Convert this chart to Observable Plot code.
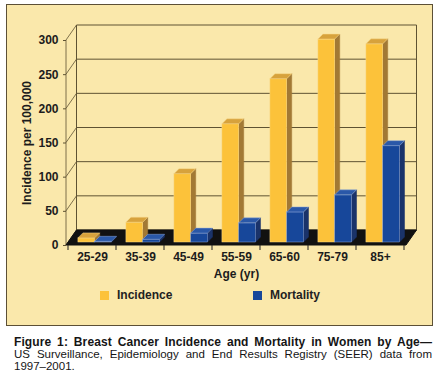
<!DOCTYPE html>
<html><head><meta charset="utf-8">
<script src="https://cdn.jsdelivr.net/npm/d3@7"></script>
<script src="https://cdn.jsdelivr.net/npm/@observablehq/plot@0.6"></script>
<style>
body{margin:0;background:#fff;width:437px;height:375px;overflow:hidden;font-family:"Liberation Sans",Arial,sans-serif;position:relative;}
#panel{position:absolute;left:6px;top:4px;width:425px;height:320px;border:1px solid #5c5036;background:#fae8ab;}
#chart{position:absolute;left:0;top:0;}
.leg{position:absolute;font-weight:bold;font-size:12px;color:#222;line-height:12px;white-space:nowrap}
.sw{position:absolute;width:9px;height:9px}
#cap{position:absolute;left:14px;top:336px;width:418px;font-size:11.5px;line-height:12px;text-align:justify;color:#151515;}
#cap b{display:block;font-size:12px;letter-spacing:0.1px;text-align:justify;text-align-last:justify;white-space:nowrap;}
#cap span{white-space:nowrap}
</style></head><body>
<div id="panel"></div>
<div id="chart"></div>
<div id="legend"></div>
<div id="cap"><b>Figure 1: Breast Cancer Incidence and Mortality in Women by Age—</b>US Surveillance, Epidemiology and End Results Registry (SEER) data from <span>1997–2001.</span></div>
<script>
const ages = ["25-29","35-39","45-49","55-59","65-60","75-79","85+"];
const incidence = [6, 29, 100, 173, 239, 297, 290];
const mortality = [1, 4, 13, 28, 44, 69, 141];
const yTicks = [0, 50, 100, 150, 200, 250, 300];
const seriesNames = ["Incidence", "Mortality"];

const GRID = "#5e5232";
const FACES = [
  {front: "#fcc23a", top: "#d7a23c", side: "#a27934", edge: "#f8d98a"},
  {front: "#17479a", top: "#2a58a8", side: "#1a336a", edge: "#8fa8d8"}
];
const WALL_DX = 10.5, WALL_DY = -15;
const BAR_SX = 2, BAR_SY = -3, BAR_D = 5;

const rows = ages.flatMap((a, i) => [
  {age: a, series: seriesNames[0], value: incidence[i], k: 0},
  {age: a, series: seriesNames[1], value: mortality[i], k: 1}
]);

function bw(s) { return typeof s.bandwidth === "function" ? s.bandwidth() : s.bandwidth; }

function walls(index, scales, values, dims) {
  const g = d3.create("svg:g");
  const y = scales.y;
  const x0 = dims.marginLeft, x1 = dims.width - dims.marginRight;
  const yTop = y(yTicks[yTicks.length - 1]), yBot = y(0);
  for (const t of yTicks) {
    const yy = y(t);
    g.append("line").attr("x1", x0 + WALL_DX).attr("x2", x1 + WALL_DX)
      .attr("y1", yy + WALL_DY).attr("y2", yy + WALL_DY).attr("stroke", GRID);
    g.append("line").attr("x1", x0).attr("x2", x0 + WALL_DX)
      .attr("y1", yy).attr("y2", yy + WALL_DY).attr("stroke", GRID).attr("stroke-width", 0.8);
  }
  g.append("line").attr("x1", x0).attr("x2", x0).attr("y1", yTop).attr("y2", yBot).attr("stroke", GRID).attr("stroke-width", 0.8);
  g.append("line").attr("x1", x0 + WALL_DX).attr("x2", x0 + WALL_DX).attr("y1", yTop + WALL_DY).attr("y2", yBot + WALL_DY).attr("stroke", GRID);
  g.append("line").attr("x1", x1 + WALL_DX).attr("x2", x1 + WALL_DX).attr("y1", yTop + WALL_DY).attr("y2", yBot + WALL_DY).attr("stroke", GRID);
  return g.node();
}

function floor(index, scales, values, dims) {
  const g = d3.create("svg:g");
  const y = scales.y, x = scales.x;
  const x0 = dims.marginLeft, x1 = dims.width - dims.marginRight;
  const y0 = y(0);
  g.append("path").attr("d", `M${x0},${y0}L${x1},${y0}L${x1 + WALL_DX},${y0 + WALL_DY}L${x0 + WALL_DX},${y0 + WALL_DY}Z`)
    .attr("fill", "#111").attr("stroke", "#111");
  const b = bw(x);
  const bounds = ages.map(a => x(a)).concat([x(ages[ages.length - 1]) + b]);
  for (const xx of bounds) {
    g.append("line").attr("x1", xx).attr("x2", xx).attr("y1", y0).attr("y2", y0 + 5).attr("stroke", "#222");
  }
  return g.node();
}

function boxes(index, scales, values, dims) {
  const g = d3.create("svg:g");
  const x = scales.x, y = scales.y;
  const b = bw(x);
  const w = b * 0.35;
  for (const i of index) {
    const r = rows[i];
    const f = FACES[r.k];
    const xa = x(r.age) + b * 0.165 + BAR_SX + r.k * w;
    const xb = xa + w;
    const yb = y(0) + BAR_SY;
    const yt = y(r.value) + BAR_SY;
    const d = BAR_D;
    g.append("path").attr("d", `M${xb},${yt}L${xb + d},${yt - d}L${xb + d},${yb - d}L${xb},${yb}Z`)
      .attr("fill", f.side).attr("stroke", f.side).attr("stroke-width", 0.5);
    g.append("rect").attr("x", xa).attr("y", yt).attr("width", w).attr("height", yb - yt)
      .attr("fill", f.front).attr("stroke", f.edge).attr("stroke-width", 0.5);
    g.append("path").attr("d", `M${xa},${yt}L${xb},${yt}L${xb + d},${yt - d}L${xa + d},${yt - d}Z`)
      .attr("fill", f.top).attr("stroke", f.edge).attr("stroke-width", 0.5);
  }
  return g.node();
}

const chart = Plot.plot({
  width: 437, height: 285,
  marginLeft: 66, marginRight: 31, marginTop: 40, marginBottom: 40,
  style: {background: "transparent", fontFamily: "'Liberation Sans', Arial, sans-serif", fontSize: "12px", fontWeight: "bold", color: "#1c1c1c"},
  x: {domain: ages, padding: 0, label: null},
  y: {domain: [0, 300], label: null},
  marks: [
    Plot.ruleY(yTicks, {y: d => d, render: walls}),
    Plot.tickX(ages, {x: d => d, render: floor}),
    Plot.barY(rows, {x: "age", y: "value", render: boxes}),
    Plot.axisY(yTicks, {tickSize: 3, tickPadding: 5, stroke: GRID, fontSize: 12}),
    Plot.axisX(ages, {tickSize: 0, tickPadding: 7, fontSize: 12}),
    Plot.text(["Age (yr)"], {text: d => d, frameAnchor: "bottom", dy: 29, lineAnchor: "middle", fontSize: 12, fontWeight: "bold"}),
    Plot.text(["Incidence per 100,000"], {text: d => d, frameAnchor: "left", dx: -39, rotate: -90, textAnchor: "middle", lineAnchor: "middle", fontSize: 12, fontWeight: "bold"})
  ]
});
document.getElementById("chart").appendChild(chart);

const legend = document.getElementById("legend");
const legPos = [100, 253];
seriesNames.forEach((name, k) => {
  const sw = document.createElement("div");
  sw.className = "sw";
  sw.style.left = legPos[k] + "px"; sw.style.top = "291px";
  sw.style.background = FACES[k].front;
  legend.appendChild(sw);
  const t = document.createElement("div");
  t.className = "leg";
  t.style.left = (legPos[k] + 17) + "px"; t.style.top = "289px";
  t.textContent = name;
  legend.appendChild(t);
});
</script>
</body></html>
